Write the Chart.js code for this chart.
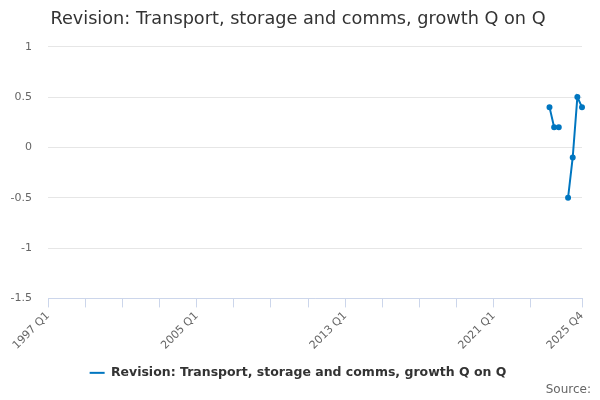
<!DOCTYPE html>
<html lang="en">
<head>
    <meta charset="UTF-8">
    <title>Revision: Transport, storage and comms</title>
    <style>
        html, body { margin: 0; padding: 0; background: #fff; }
        #wrap { width: 600px; height: 400px; }
    </style>
</head>
<body>
<div id="wrap"><canvas id="myChart"></canvas></div>

<script src="https://cdn.jsdelivr.net/npm/chart.js"></script>
<script>
    // quarters 1997 Q1 .. 2025 Q4
    const quarters = [];
    for (let y = 1997; y <= 2025; ++y) {
        for (let q = 1; q <= 4; ++q) quarters.push(y + ' Q' + q);
    }
    const shownLabels = ['1997 Q1', '2005 Q1', '2013 Q1', '2021 Q1', '2025 Q4'];

    // only the last quarters have revisions, 2024 Q4 is missing
    const revQuarters = ['2024 Q1', '2024 Q2', '2024 Q3', '2025 Q1', '2025 Q2', '2025 Q3', '2025 Q4'];
    const revValues = [0.4, 0.2, 0.2, -0.5, -0.1, 0.5, 0.4];

    const yTicks = [1, 0.5, 0, -0.5, -1, -1.5];

    const series = quarters.map(q => {
        const i = revQuarters.indexOf(q);
        return i < 0 ? null : revValues[i];
    });

    const blue = 'rgb(0,118,192)';
    const font = 'DejaVu Sans';

    new Chart(document.getElementById('myChart'), {
        type: 'line',
        data: {
            labels: quarters,
            datasets: [{
                label: 'Revision: Transport, storage and comms, growth Q on Q',
                data: series,
                borderColor: blue,
                backgroundColor: blue,
                borderWidth: 2,
                pointRadius: 2,
                pointHoverRadius: 3,
                spanGaps: false,
                tension: 0,
            }],
        },
        options: {
            responsive: true,
            maintainAspectRatio: false,
            animation: false,
            layout: {padding: {left: 5, right: 9, top: 4, bottom: 3}},
            scales: {
                x: {
                    offset: false,
                    border: {display: true, color: '#ccd6eb', width: 1},
                    grid: {
                        drawOnChartArea: false,
                        drawTicks: true,
                        tickLength: 9,
                        color: ctx => {
                            const i = ctx.index;
                            return ((i % 8 === 0 && i < 112) || i === quarters.length - 1) ? '#ccd6eb' : 'rgba(0,0,0,0)';
                        },
                    },
                    ticks: {
                        autoSkip: false,
                        maxRotation: 45,
                        minRotation: 45,
                        color: '#666',
                        font: {family: font, size: 11},
                        padding: 2,
                        callback: function (val, i) {
                            const l = quarters[i];
                            return shownLabels.includes(l) ? l : '';
                        },
                    },
                    afterFit: s => {
                        s.paddingLeft = 0;
                        s.paddingRight = 18;
                        s.height += 9;
                    },
                },
                y: {
                    min: -1.5,
                    max: 1,
                    border: {display: false},
                    grid: {color: '#e6e6e6', drawTicks: false},
                    afterBuildTicks: axis => {
                        axis.ticks = yTicks.map(v => ({value: v}));
                    },
                    afterFit: s => {
                        s.width = 43;
                    },
                    ticks: {
                        color: '#666',
                        font: {family: font, size: 11},
                        padding: 16,
                        callback: v => String(v),
                    },
                },
            },
            plugins: {
                title: {
                    display: true,
                    text: 'Revision: Transport, storage and comms, growth Q on Q',
                    align: 'center',
                    color: '#333',
                    font: {family: font, size: 17.7, weight: 'normal'},
                    padding: {top: 4.5, bottom: 17},
                },
                legend: {
                    position: 'bottom',
                    labels: {
                        color: '#333',
                        font: {family: font, size: 12.5, weight: 'bold'},
                        usePointStyle: true,
                        pointStyle: 'line',
                        pointStyleWidth: 15,
                        padding: 3.5,
                    },
                },
                subtitle: {
                    display: true,
                    position: 'bottom',
                    align: 'end',
                    text: 'Source:',
                    color: '#666',
                    font: {family: font, size: 12, weight: 'normal'},
                    padding: {top: -6.5, bottom: 0},
                },
                tooltip: {enabled: false},
            },
        },
    });
</script>
</body>
</html>
